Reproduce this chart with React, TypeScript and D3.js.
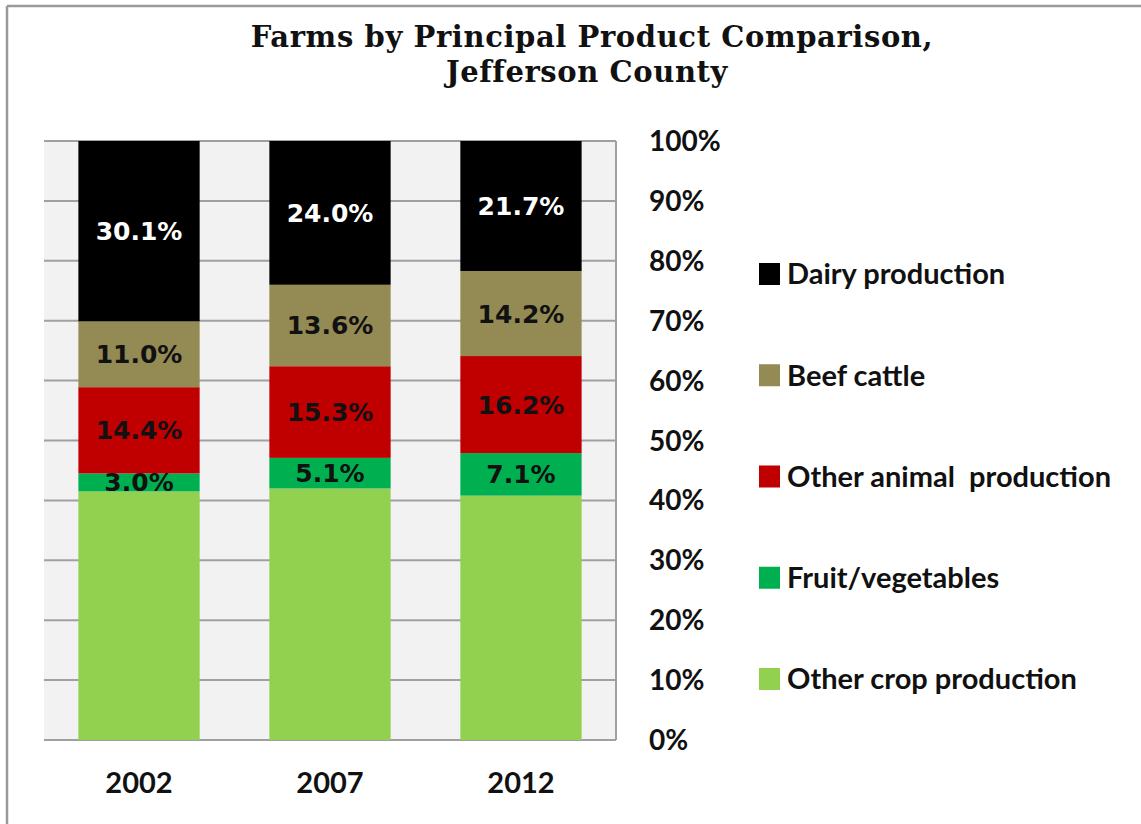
import * as d3 from 'd3';

// Chart values (percent of farms)
const YEARS = ['2002', '2007', '2012'];
const SERIES = ['Other crop production', 'Fruit/vegetables', 'Other animal production', 'Beef cattle', 'Dairy production'];
const OTHER_CROP = [41.5, 42.0, 40.8];
const FRUIT_VEG = [3.0, 5.1, 7.1];
const OTHER_ANIMAL = [14.4, 15.3, 16.2];
const BEEF = [11.0, 13.6, 14.2];
const DAIRY = [30.1, 24.0, 21.7];
const Y_TICKS = [0, 10, 20, 30, 40, 50, 60, 70, 80, 90, 100];

const COLORS: Record<string, string> = {
  'Other crop production': '#92D050',
  'Fruit/vegetables': '#00B050',
  'Other animal production': '#C00000',
  'Beef cattle': '#948A54',
  'Dairy production': '#000000',
};
// label colour per segment; null = no label
const LABEL_FILL: Record<string, string | null> = {
  'Other crop production': null,
  'Fruit/vegetables': '#111',
  'Other animal production': '#111',
  'Beef cattle': '#111',
  'Dairy production': '#fff',
};
// legend text as printed (note the wider gap in the third entry)
const LEGEND_TEXT: Record<string, string> = {
  'Dairy production': 'Dairy production',
  'Beef cattle': 'Beef cattle',
  'Other animal production': 'Other animal  production',
  'Fruit/vegetables': 'Fruit/vegetables',
  'Other crop production': 'Other crop production',
};

const W = 1141;
const H = 824;
const plot = { left: 44, right: 616, top: 141, bottom: 740 };
const sans = 'Lato, "Open Sans", sans-serif';
const serif = '"DejaVu Serif", serif';

export default function App() {
  const rows = YEARS.map((year, i) => ({
    year,
    'Other crop production': OTHER_CROP[i],
    'Fruit/vegetables': FRUIT_VEG[i],
    'Other animal production': OTHER_ANIMAL[i],
    'Beef cattle': BEEF[i],
    'Dairy production': DAIRY[i],
  }));

  const x = d3.scaleBand<string>().domain(YEARS).range([plot.left, plot.right]).paddingInner(0.365).paddingOuter(0.18);
  const y = d3.scaleLinear().domain([0, 100]).range([plot.bottom, plot.top]);
  const stacked = d3.stack<any>().keys(SERIES)(rows);

  // legend order: top of stack first
  const legend = [...SERIES].reverse();
  const legendY = d3.scalePoint<string>().domain(legend).range([274, 679]);

  return (
    <div style={{ position: 'absolute', left: 0, top: 0 }}>
      <svg width={W} height={H} style={{ display: 'block', background: '#fff' }}>
        {/* outer frame (top + left visible) */}
        <line x1={7} x2={W} y1={6} y2={6} stroke="#9a9a9a" strokeWidth={2.5} />
        <line x1={7} x2={7} y1={6} y2={H} stroke="#9a9a9a" strokeWidth={2.5} />

        <text x={592} y={47} textAnchor="middle" fontFamily={serif} fontWeight="bold" fontSize={29} letterSpacing={0.6} fill="#111">
          Farms by Principal Product Comparison,
        </text>
        <text x={587} y={82} textAnchor="middle" fontFamily={serif} fontWeight="bold" fontSize={29} letterSpacing={0.6} fill="#111">
          Jefferson County
        </text>

        <rect x={plot.left} y={plot.top} width={plot.right - plot.left} height={plot.bottom - plot.top} fill="#f2f2f2" />
        {Y_TICKS.map((t) => (
          <line key={t} x1={plot.left} x2={plot.right} y1={y(t)} y2={y(t)} stroke="#a0a0a0" strokeWidth={2} />
        ))}
        <line x1={plot.right} x2={plot.right} y1={plot.top} y2={plot.bottom} stroke="#a0a0a0" strokeWidth={2} />

        {stacked.map((s) => (
          <g key={s.key} fill={COLORS[s.key]}>
            {s.map((d, i) => (
              <rect key={i} x={x(YEARS[i])} y={y(d[1])} width={x.bandwidth()} height={y(d[0]) - y(d[1])} />
            ))}
          </g>
        ))}

        {stacked.map((s) =>
          LABEL_FILL[s.key]
            ? s.map((d, i) => (
                <text
                  key={s.key + i}
                  x={(x(YEARS[i]) ?? 0) + x.bandwidth() / 2}
                  y={y((d[0] + d[1]) / 2)}
                  dy="0.36em"
                  textAnchor="middle"
                  fontFamily='"DejaVu Sans", Verdana, sans-serif'
                  fontWeight="bold"
                  fontSize={25}
                  fill={LABEL_FILL[s.key] as string}
                >
                  {(d[1] - d[0]).toFixed(1)}%
                </text>
              ))
            : null
        )}

        {Y_TICKS.map((t) => (
          <text key={t} x={649} y={y(t)} dy="0.36em" fontFamily={sans} fontWeight="bold" fontSize={28} fill="#111">
            {t}%
          </text>
        ))}

        {YEARS.map((yr) => (
          <text key={yr} x={(x(yr) ?? 0) + x.bandwidth() / 2} y={783} dy="0.36em" textAnchor="middle" fontFamily={sans} fontWeight="bold" fontSize={29} fill="#111">
            {yr}
          </text>
        ))}

        {legend.map((k) => (
          <g key={k} transform={`translate(759,${legendY(k)})`}>
            <rect x={0} y={-11} width={21} height={22} fill={COLORS[k]} />
            <text x={28} y={0} dy="0.36em" fontFamily={sans} fontWeight="bold" fontSize={29} fill="#111" style={{ whiteSpace: 'pre' }}>
              {LEGEND_TEXT[k]}
            </text>
          </g>
        ))}
      </svg>
    </div>
  );
}
